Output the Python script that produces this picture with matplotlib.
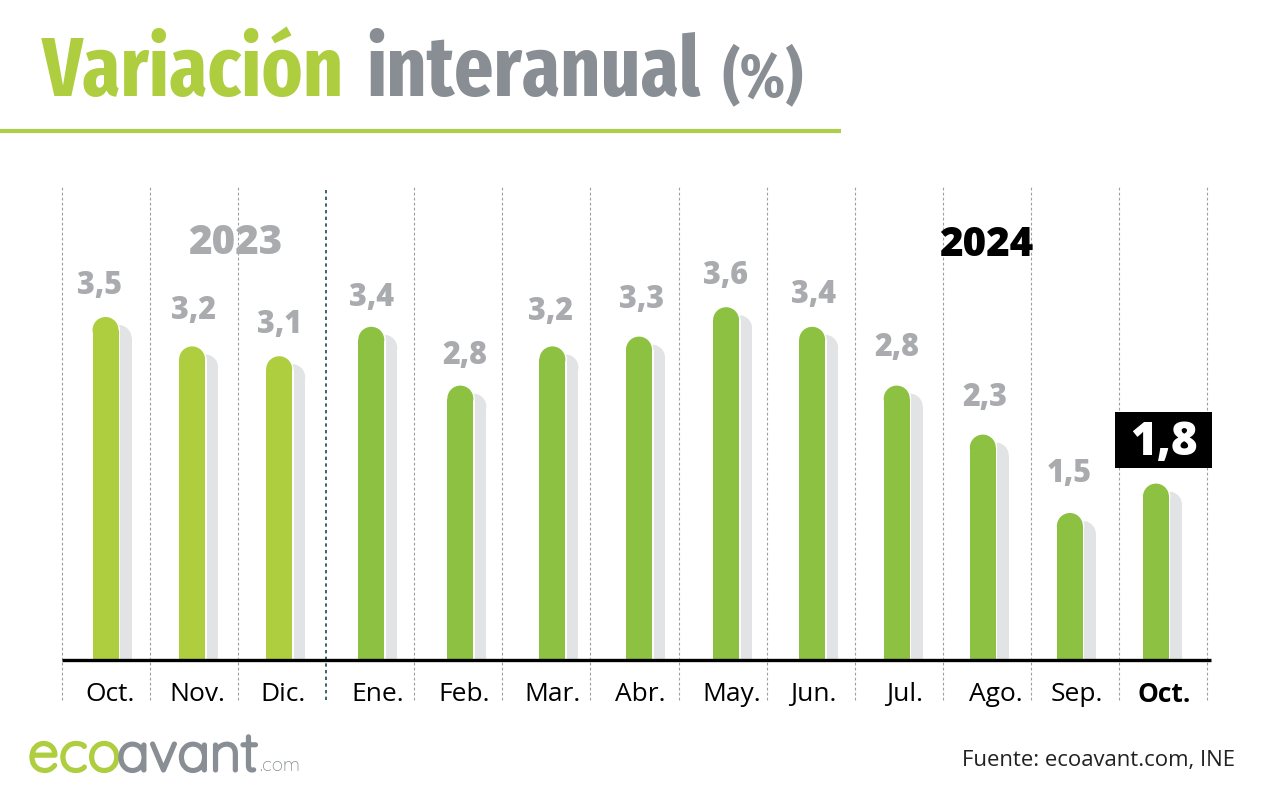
import matplotlib
matplotlib.use("Agg")
import matplotlib.pyplot as plt
import matplotlib.patheffects as pe
from matplotlib.patches import Ellipse, Rectangle

# datos
meses = ["Oct.", "Nov.", "Dic.", "Ene.", "Feb.", "Mar.", "Abr.", "May.", "Jun.", "Jul.", "Ago.", "Sep.", "Oct."]
valores = [3.5, 3.2, 3.1, 3.4, 2.8, 3.2, 3.3, 3.6, 3.4, 2.8, 2.3, 1.5, 1.8]
etiquetas = ["3,5", "3,2", "3,1", "3,4", "2,8", "3,2", "3,3", "3,6", "3,4", "2,8", "2,3", "1,5", "1,8"]
n_2023 = 3

# ajustes a mano, en pixeles
bar_dx = [-0.5, -2, -3, 1, 2, 6, 4.5, 3.5, 1.5, -2, -4, -5, -7]
mes_dx = [4, 3, 1, 7, 6, 6, 5.5, 9.5, 3, 6, 9, 2, 1]
val_dx = [-6, 1.5, 0, 0, 4.5, -2, 2.5, -0.5, 1, 0, 2, -1, 0]
val_dy = [31, 35, 31, 29, 30, 34, 37, 31, 32, 38, 37, 39, 0]

VERDE_CLARO = "#aecd3f"
VERDE = "#8cc142"
GRIS_TITULO = "#888e94"
GRIS_VALOR = "#a9abae"
SOMBRA = "#e2e3e5"

W, H = 1280, 800
fig = plt.figure(figsize=(12.8, 8), dpi=100, facecolor="white")

X0, X1, Y_TOP, Y_BASE, Y_BOT = 62, 1207, 187, 660, 700
PX_Y = 98.0
PX_X = (X1 - X0) / len(meses)
ax = fig.add_axes([X0 / W, 1 - Y_BOT / H, (X1 - X0) / W, (Y_BOT - Y_TOP) / H])
ax.set_xlim(-0.5, len(meses) - 0.5)
ax.set_ylim(-(Y_BOT - Y_BASE) / PX_Y, (Y_BASE - Y_TOP) / PX_Y)
ax.axis("off")


def barra(x, v, color, z):
    # barra con la parte superior redondeada
    w = 26 / PX_X
    cap = 26 / PX_Y
    ax.add_patch(Rectangle((x - w / 2, 0), w, v - cap / 2, fc=color, ec="none", zorder=z))
    ax.add_patch(Ellipse((x, v - cap / 2), w, cap, fc=color, ec="none", zorder=z))


plt.rcParams["font.family"] = ["Open Sans", "DejaVu Sans"]

# lineas verticales
for i in range(len(meses) + 1):
    color = "#1d4a52" if i == n_2023 else "#9a9fa3"
    ax.vlines(i - 0.5, -(Y_BOT - Y_BASE) / PX_Y, (Y_BASE - Y_TOP) / PX_Y, colors=color,
              linestyles=(0, (2, 2)) if i == n_2023 else (0, (2.5, 2)), lw=1.2 if i == n_2023 else 0.8,
              zorder=1, clip_on=False)

for i, v in enumerate(valores):
    x = i + bar_dx[i] / PX_X
    color = VERDE_CLARO if i < n_2023 else VERDE
    barra(x + 13 / PX_X, v - 8 / PX_Y, SOMBRA, 2)
    barra(x + 1.5 / PX_X, v, "white", 3)
    barra(x, v, color, 4)
    ultimo = i == len(meses) - 1
    ax.text(i + mes_dx[i] / PX_X, -34.5 / PX_Y, meses[i], ha="center", va="center", fontsize=19,
            color="black", fontweight="bold" if ultimo else "normal", zorder=6)
    if not ultimo:
        ax.text(x + val_dx[i] / PX_X, v + val_dy[i] / PX_Y, etiquetas[i], ha="center", va="center",
                fontsize=22, fontweight=800, color=GRIS_VALOR, zorder=6)

ax.hlines(0, -0.5, len(meses) - 0.5 + 4 / PX_X, colors="black", lw=2.4, zorder=5, clip_on=False)

# recuadro del ultimo dato
ax.add_patch(Rectangle((12 + (1115 - 1163) / PX_X, (660 - 468) / PX_Y), 97 / PX_X, 56 / PX_Y,
                       fc="black", ec="none", zorder=6, clip_on=False))
ax.text(12 + (1164 - 1163) / PX_X, (660 - 443) / PX_Y, etiquetas[-1], ha="center", va="center",
        fontsize=33, fontweight=800, color="white", zorder=7)


def texto(px, py, s, **kw):
    return fig.text(px / W, 1 - py / H, s, **kw)


# titulo
COND = dict(family="Fira Sans Extra Condensed", fontweight=700, va="baseline")
texto(42, 96, "Variación", fontsize=60.5, color=VERDE_CLARO, **COND)
texto(366, 96, "interanual", fontsize=60.5, color=GRIS_TITULO, **COND)
texto(722, 96, "(%)", fontsize=45, color=GRIS_TITULO, **COND)
fig.add_artist(plt.Line2D([0, 841 / W], [1 - 131 / H, 1 - 131 / H], color="#aecd48", lw=3, solid_capstyle="butt"))

# anos
texto(235, 244, "2023", fontsize=29, fontweight=800, color=GRIS_VALOR, ha="center", va="center")
texto(986, 245, "2024", fontsize=29, fontweight=800, color="black", ha="center", va="center")

# logo y fuente: Quicksand solo esta en fino, se engorda con un trazo
LOGO = ["Quicksand", "Lato"]
eco = texto(28, 771, "eco", fontsize=40, color=VERDE_CLARO, family=LOGO, va="baseline")
eco.set_path_effects([pe.withStroke(linewidth=2.2, foreground=VERDE_CLARO)])
avant = texto(117, 771, "avant", fontsize=39, color=GRIS_TITULO, family=LOGO, va="baseline")
avant.set_path_effects([pe.withStroke(linewidth=2.2, foreground=GRIS_TITULO)])
texto(259, 771, ".com", fontsize=13.5, color=GRIS_TITULO, family=LOGO, va="baseline")
texto(1235, 760.5, "Fuente: ecoavant.com, INE", fontsize=15.9, color="#222222", ha="right", va="center")

fig.savefig("out.png", dpi=100, facecolor="white")
